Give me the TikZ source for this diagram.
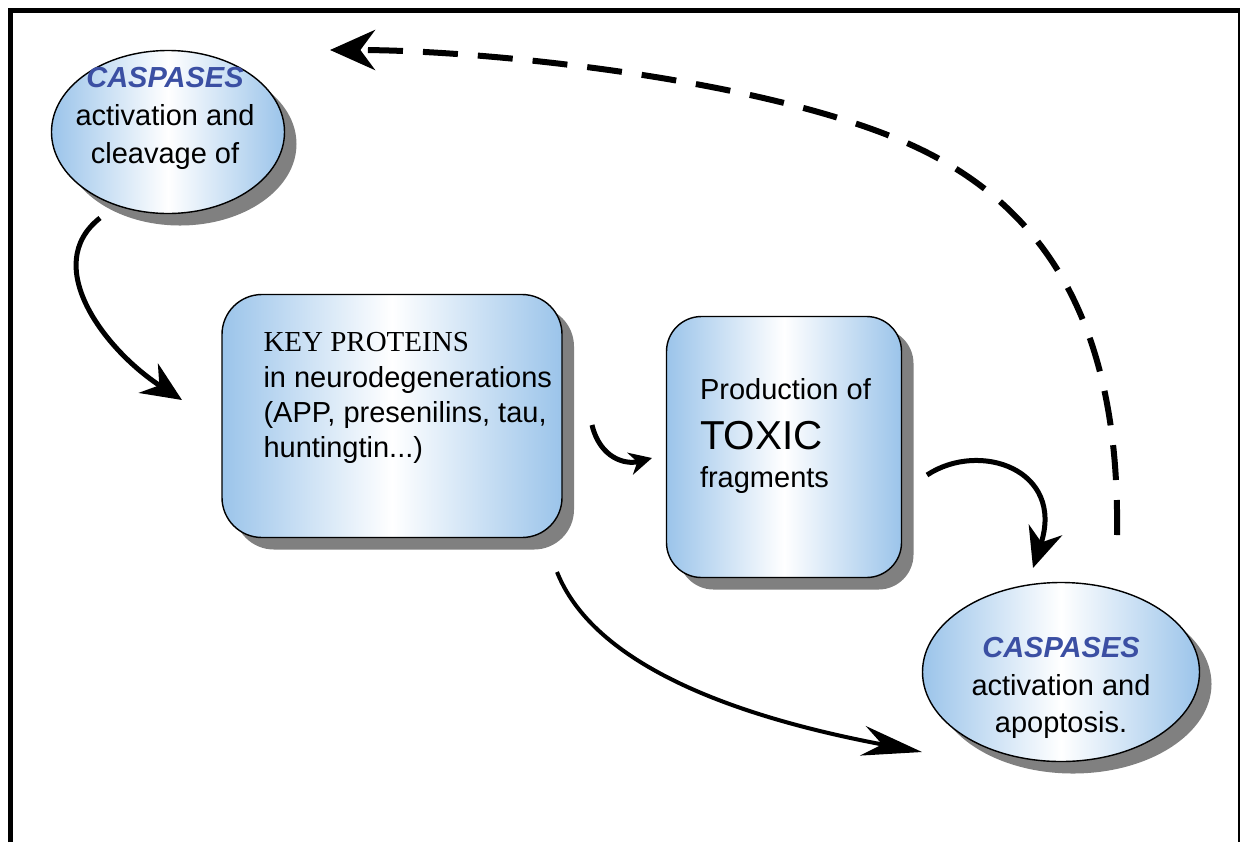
\documentclass[tikz,border=0pt]{standalone}
\usepackage{fontspec}
\setmainfont{Liberation Sans}
\newfontfamily\timesfont{Liberation Serif}
\usetikzlibrary{shapes.geometric,shadows,arrows.meta}
\definecolor{lightblue}{RGB}{155,196,234}
\definecolor{caspblue}{RGB}{59,79,163}
\tikzset{every node/.style={align=center}, >=Stealth, font=\fontsize{16.5}{21.5}\selectfont}
\tikzset{
  blob/.style={draw, line width=0.8pt, left color=lightblue, right color=lightblue, middle color=white,
    drop shadow={shadow xshift=2.4mm, shadow yshift=-2.4mm, fill=black!50, opacity=1}},
  oval/.style={blob, ellipse, inner sep=0pt},
  rbox/.style={blob, rectangle, rounded corners=8mm, inner sep=0pt},
  swoosh/.style={line width=1mm, -{Stealth[length=8mm, width=7mm]}}
}

\begin{document}
\begin{tikzpicture}[x=0.2mm, y=0.2mm]
    \useasboundingbox (0,0) rectangle (1243,-842);
    \draw[line width=1mm] (10,-842) -- (10,-10) -- (1240,-10);
    \draw[line width=0.5mm] (1239,-10) -- (1239,-842);

    \node [oval, minimum width=46.6mm, minimum height=32.6mm] (casp1) at (168,-132) {};
    \node [rbox, minimum width=68mm, minimum height=48.6mm] (key) at (392,-416) {};
    \node [rbox, rounded corners=7mm, minimum width=47mm, minimum height=52.2mm] (toxic) at (784,-447) {};
    \node [oval, minimum width=55.4mm, minimum height=35.8mm] (casp2) at (1061,-672) {};

    \node (casp1txt) at ([xshift=-0.6mm, yshift=2.7mm]casp1.center)
        {{\bfseries\itshape\color{caspblue}CASPASES}\\activation and\\cleavage of};
    \node [align=left, anchor=west, font=\fontsize{16.5}{20}\selectfont] (keytxt) at ([xshift=7.2mm, yshift=3.6mm]key.west)
        {{\timesfont KEY PROTEINS}\\in neurodegenerations\\(APP, presenilins, tau,\\huntingtin...)};
    \node [align=left, anchor=west] (toxictxt) at ([xshift=5.6mm, yshift=2.2mm]toxic.west)
        {Production of\\[2.5mm]{\fontsize{23}{26}\selectfont TOXIC}\\fragments};
    \node (casp2txt) at ([yshift=-3.2mm]casp2.center)
        {{\bfseries\itshape\color{caspblue}CASPASES}\\activation and\\apoptosis.};

    \coordinate (a0) at (100,-218);
    \coordinate (a1) at (182,-400);
    \coordinate (b0) at (592,-425);
    \coordinate (b1) at (652,-458);
    \coordinate (e0) at (927,-475);
    \coordinate (e1) at (1033,-568);
    \coordinate (f0) at (557,-572);
    \coordinate (f1) at (922,-752);
    \coordinate (d0) at (1117,-535);
    \coordinate (dm) at (900,-140);
    \coordinate (d1) at (330,-50);

    \draw [swoosh] (a0) .. controls (40,-265) and (105,-350) .. (a1);
    \draw [swoosh, -{Stealth[length=4.5mm, width=4.5mm]}] (b0) .. controls (600,-458) and (625,-465) .. (b1);
    \draw [swoosh] (e0) .. controls (980,-440) and (1065,-470) .. (e1);
    \draw [swoosh, line width=0.8mm, -{Stealth[length=12mm, width=6mm]}] (f0) .. controls (600,-680) and (780,-725) .. (f1);
    \draw [line width=1.2mm, dash pattern=on 7mm off 4mm, -{Stealth[length=9mm, width=8mm]}]
        (d0) .. controls (1120,-330) and (1050,-203) .. (dm)
             .. controls (750,-77) and (480,-50) .. (d1);
\end{tikzpicture}
\end{document}
